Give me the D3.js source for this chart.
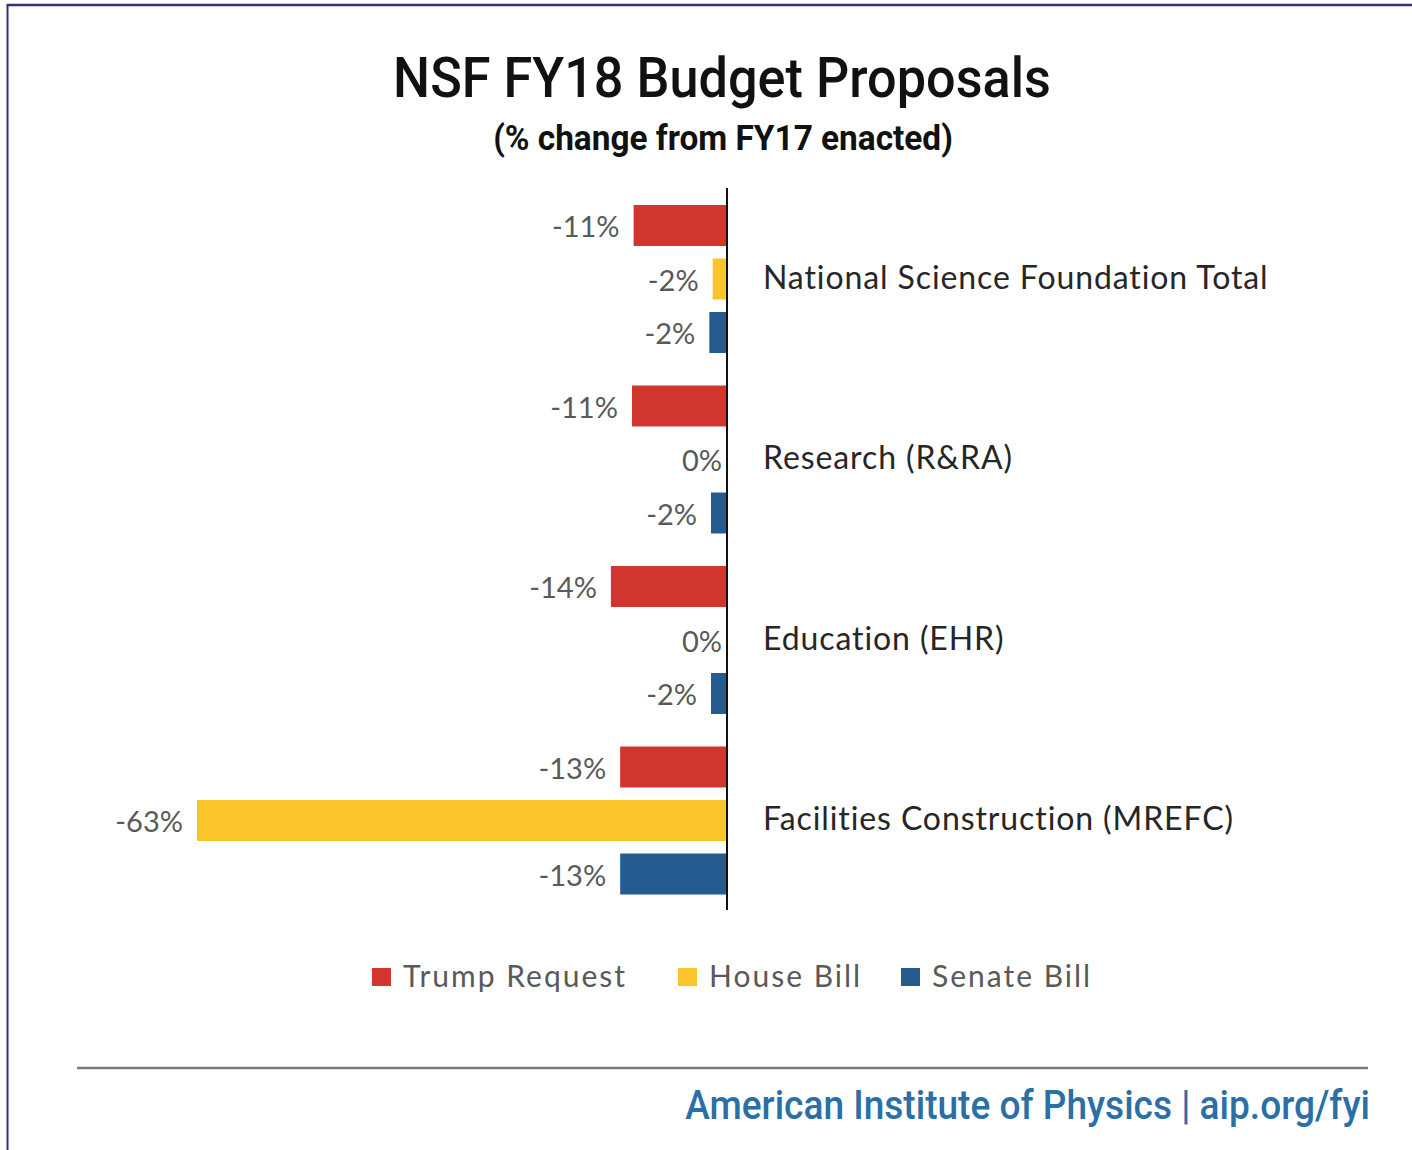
<!DOCTYPE html>
<html lang="en">
<head>
  <meta charset="UTF-8">
  <title>NSF FY18 Budget Proposals</title>
  <script src="https://d3js.org/d3.v7.min.js"></script>
  <style>
    body { margin: 0; background-color: white; }
    .narrow { font-family: Roboto, "DejaVu Sans Condensed", sans-serif; }
    .body-font { font-family: Lato, "Open Sans", sans-serif; }
  </style>
</head>
<body>
<svg id="chart"></svg>
<script>
// data
const categories = ["National Science Foundation Total", "Research (R&RA)", "Education (EHR)", "Facilities Construction (MREFC)"];
const seriesNames = ["Trump Request", "House Bill", "Senate Bill"];
const trumpValues = [-11.1, -11.3, -13.8, -12.7];
const houseValues = [-1.7, 0, 0, -63];
const senateValues = [-2.1, -1.9, -1.9, -12.7];
const seriesColors = ["#d1362e", "#fbc42a", "#245c8f"];

const width = 1412, height = 1150;
const svg = d3.select("#chart").attr("width", width).attr("height", height);

// frame (top + left edge)
svg.append("line").attr("x1", 7).attr("x2", width).attr("y1", 5).attr("y2", 5)
  .attr("stroke", "#3f2a78").attr("stroke-width", 2.5);
svg.append("line").attr("x1", 7.5).attr("x2", 7.5).attr("y1", 4).attr("y2", height)
  .attr("stroke", "#3f2a78").attr("stroke-width", 2);

// squeezed text to imitate a condensed face: anchor = "middle" or "end"
function condensed(str, x, y, size, weight, fill, targetW, anchor) {
  const g = svg.append("g");
  const t = g.append("text").attr("class", "narrow")
    .attr("font-size", size).attr("font-weight", weight).attr("fill", fill)
    .attr("text-anchor", anchor).text(str);
  const k = targetW / t.node().getComputedTextLength();
  g.attr("transform", `translate(${x},${y}) scale(${k},1)`);
  return t;
}
condensed("NSF FY18 Budget Proposals", 722, 97, 55, 500, "#111", 658, "middle");
condensed("(% change from FY17 enacted)", 723, 150, 35, "bold", "#111", 460, "middle");

// scales
const x = d3.scaleLinear().domain([-63, 0]).range([197, 727]);
const y0 = d3.scaleBand().domain(categories).range([188, 910]);
const y1 = d3.scaleBand().domain(seriesNames).range([17, 165]).paddingInner(0.234);

const rows = [];
categories.forEach((c, i) => {
  [trumpValues, houseValues, senateValues].forEach((arr, j) => {
    rows.push({ cat: c, series: seriesNames[j], value: arr[i], color: seriesColors[j] });
  });
});

const groups = svg.append("g");
groups.selectAll("rect")
  .data(rows)
  .join("rect")
  .attr("x", d => x(d.value))
  .attr("width", d => x(0) - x(d.value))
  .attr("y", d => y0(d.cat) + y1(d.series))
  .attr("height", y1.bandwidth())
  .attr("fill", d => d.color);

// value labels
groups.selectAll("text")
  .data(rows)
  .join("text")
  .attr("class", "body-font")
  .attr("x", d => x(d.value) - (d.value === 0 ? 5 : 14))
  .attr("y", d => y0(d.cat) + y1(d.series) + y1.bandwidth() / 2)
  .attr("dy", "0.4em")
  .attr("text-anchor", "end")
  .attr("font-size", 29)
  .attr("fill", "#595959")
  .text(d => Math.round(d.value) + "%");

// zero axis
svg.append("line")
  .attr("x1", x(0)).attr("x2", x(0))
  .attr("y1", y0.range()[0]).attr("y2", y0.range()[1])
  .attr("stroke", "#111").attr("stroke-width", 2);

// category labels
svg.selectAll(".cat")
  .data(categories)
  .join("text")
  .attr("class", "cat body-font")
  .attr("x", 763)
  .attr("y", d => y0(d) + y0.bandwidth() / 2)
  .attr("dy", "0.33em")
  .attr("font-size", 32)
  .attr("letter-spacing", 0.9)
  .attr("fill", "#262626")
  .text(d => d);

// legend
const legendX = [372, 678, 901];
const legend = svg.selectAll(".legend")
  .data(seriesNames)
  .join("g")
  .attr("class", "legend")
  .attr("transform", (d, i) => `translate(${legendX[i]},977)`);
legend.append("rect")
  .attr("x", 0).attr("y", -9).attr("width", 19).attr("height", 18)
  .attr("fill", (d, i) => seriesColors[i]);
legend.append("text")
  .attr("class", "body-font")
  .attr("x", 31).attr("dy", "0.34em")
  .attr("font-size", 30).attr("letter-spacing", 2).attr("fill", "#595959")
  .text(d => d);

// footer
svg.append("line").attr("x1", 77).attr("x2", 1368).attr("y1", 1068).attr("y2", 1068)
  .attr("stroke", "#7a7a7a").attr("stroke-width", 2.5);
condensed("American Institute of Physics | aip.org/fyi", 1370, 1119, 41, 500, "#2a6fa5", 685, "end");
</script>
</body>
</html>
